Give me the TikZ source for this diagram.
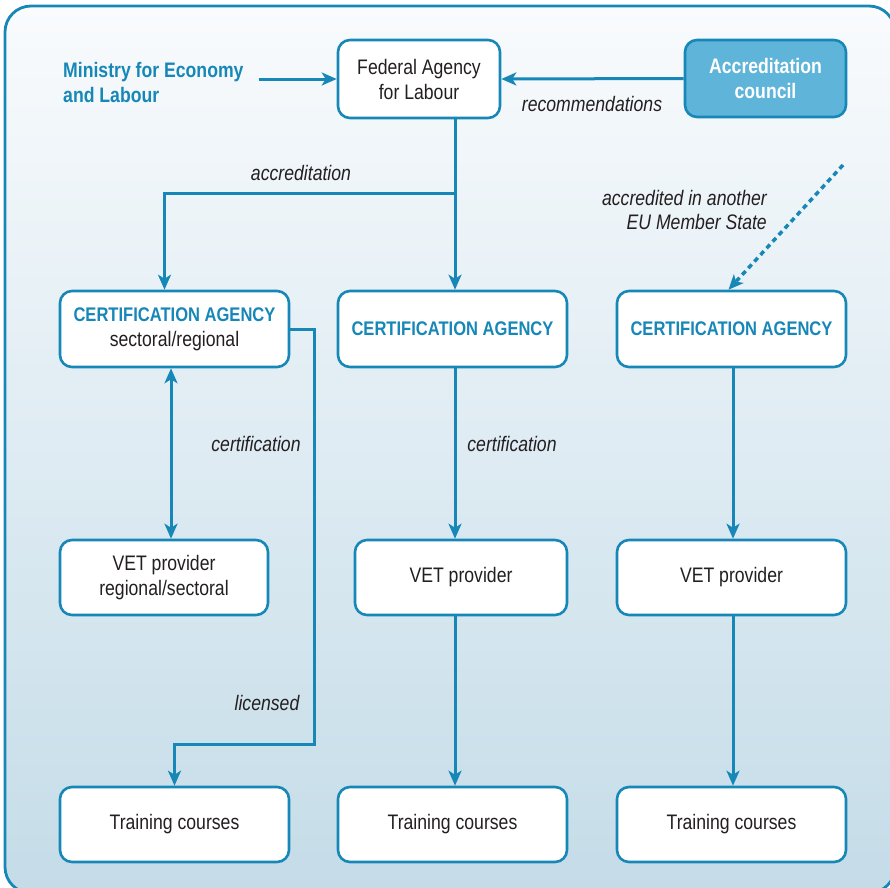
\documentclass[tikz,border=0pt]{standalone}
\usepackage{fontspec}
\setmainfont{Liberation Sans}[FakeStretch=0.84]
\usetikzlibrary{arrows.meta,calc}
\definecolor{cblue}{HTML}{1787B8}
\definecolor{accfill}{HTML}{5EB4D9}
\definecolor{bgtop}{HTML}{F9FBFD}
\definecolor{bgbot}{HTML}{C4DCE8}
\definecolor{txt}{HTML}{231F20}
\tikzset{
  box/.style={draw=cblue, line width=2.6pt, rounded corners=12pt, fill=white,
    minimum width=229pt, minimum height=76pt, align=center, inner sep=0pt,
    text=txt, font=\fontsize{21}{25}\selectfont},
  certbox/.style={box, font=\fontsize{19.7}{25}\selectfont\bfseries, text=cblue},
  arr/.style={draw=cblue, line width=3pt, -{Stealth[length=15pt,width=13pt,inset=4pt]}},
  darr/.style={draw=cblue, line width=3pt, {Stealth[length=15pt,width=13pt,inset=4pt]}-{Stealth[length=15pt,width=13pt,inset=4pt]}},
  dotarr/.style={arr, line width=3.5pt, dash pattern=on 5pt off 4pt},
  lbl/.style={font=\fontsize{21}{24}\selectfont\itshape, text=txt, inner sep=0pt},
}
\begin{document}
\begin{tikzpicture}[x=1pt,y=-1pt]
\useasboundingbox (0,0) rectangle (890,887);
\clip (0,0) rectangle (890,887);
\path[draw=cblue, line width=2.8pt, top color=bgtop, bottom color=bgbot, rounded corners=26pt]
  (5,6) rectangle (895,893);

% nodes
\node[box, minimum width=162pt, minimum height=78pt] (fed) at (419,79) {Federal Agency\\for Labour};
\node[box, fill=accfill, minimum width=161pt, minimum height=77pt, text=white,
  font=\fontsize{21}{25}\selectfont\bfseries] (acc) at (765.5,78.5) {Accreditation\\council};
\node[anchor=west, align=left, inner sep=0pt, text=cblue,
  font=\fontsize{21}{25}\selectfont\bfseries] (min) at (63,82) {Ministry for Economy\\and Labour};

\node[box] (cert1) at (174.5,329) {{\fontsize{19.7}{25}\selectfont\bfseries\color{cblue}CERTIFICATION AGENCY}\\sectoral/regional};
\node[certbox] (cert2) at (452.5,329) {CERTIFICATION AGENCY};
\node[certbox] (cert3) at (731.5,329) {CERTIFICATION AGENCY};

\node[box, minimum width=208pt, minimum height=75pt] (vet1) at (164,577.5) {VET provider\\regional/sectoral};
\node[box, minimum width=212pt, minimum height=75pt] (vet2) at (461,577.5) {VET provider};
\node[box, minimum height=75pt] (vet3) at (731.5,577.5) {VET provider};

\node[box, minimum height=75pt] (tr1) at (174.5,824.5) {Training courses};
\node[box, minimum height=75pt] (tr2) at (452.5,824.5) {Training courses};
\node[box, minimum height=75pt] (tr3) at (731.5,824.5) {Training courses};

% labels
\node[lbl] (lrec) at (592,104) {recommendations};
\node[lbl] (lacc) at (301,173) {accreditation};
\node[lbl, anchor=east, align=right] (lother) at (767,210) {accredited in another\\EU Member State};
\node[lbl] (lcert1) at (256,444) {certification};
\node[lbl] (lcert2) at (512,444) {certification};
\node[lbl] (llic) at (267,703) {licensed};

% coordinates
\coordinate (mstart) at ([xshift=15pt]min.east);
\coordinate (jx) at (455,193);
\coordinate (vx) at (171,450);
\coordinate (lx) at (314,744);
\coordinate (dstart) at (843,165);
\coordinate (c3x) at (733,450);

% connectors
\draw[arr] (mstart |- fed.west) -- (fed.west);
\draw[arr] (acc.west) -- (fed.east);
\draw[arr] (fed.south -| jx) -- (cert2.north -| jx);
\draw[arr] (jx) -| ([xshift=-10pt]cert1.north);
\draw[dotarr] (dstart) -- ([xshift=-3pt]cert3.north);
\draw[darr] (cert1.south -| vx) -- (vet1.north -| vx);
\draw[arr] (cert1.east) -| (lx) -| (tr1.north);
\draw[arr] (cert2.south -| jx) -- (vet2.north -| jx);
\draw[arr] (vet2.south -| jx) -- (tr2.north -| jx);
\draw[arr] (cert3.south -| c3x) -- (vet3.north -| c3x);
\draw[arr] (vet3.south -| c3x) -- (tr3.north -| c3x);
\end{tikzpicture}
\end{document}
